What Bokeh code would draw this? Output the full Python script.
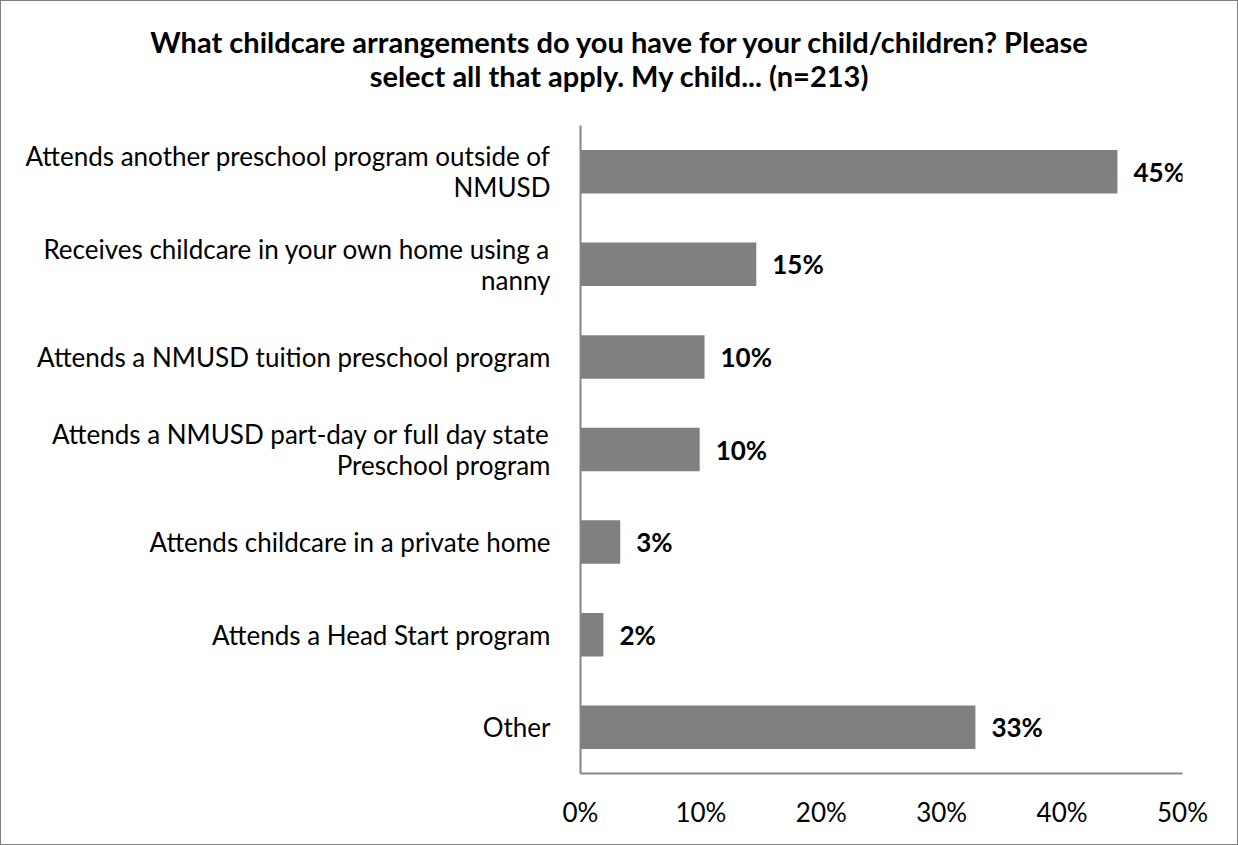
from bokeh.plotting import figure
from bokeh.models import ColumnDataSource, Range1d, FactorRange, FixedTicker, LabelSet, Div, CustomJSTickFormatter
from bokeh.layouts import column
from bokeh.core.properties import value
from bokeh.embed import file_html
from bokeh.resources import INLINE

categories = [
    "Attends another preschool program outside of\nNMUSD",
    "Receives childcare in your own home using a\nnanny",
    "Attends a NMUSD tuition preschool program",
    "Attends a NMUSD part-day or full day state\nPreschool program",
    "Attends childcare in a private home",
    "Attends a Head Start program",
    "Other",
]
values = [44.6, 14.6, 10.3, 9.9, 3.3, 1.9, 32.8]
x_ticks = [0, 10, 20, 30, 40, 50]
title_line1 = "What childcare arrangements do you have for your child/children? Please"
title_line2 = "select all that apply. My child... (n=213)"

labels = [f"{v:.0f}%" for v in values]
src = ColumnDataSource(dict(cat=categories, val=values, lab=labels))

W = 1236
DIV_H = 110
H = 843 - DIV_H

title = Div(text=f"{title_line1}<br>{title_line2}", width=W, height=DIV_H, margin=0,
            styles={"font-family": "Lato", "font-weight": "bold", "font-size": "29px",
                    "line-height": "34px", "text-align": "center", "color": "black",
                    "padding-top": "24px", "box-sizing": "border-box",
                    "background-color": "white"})

p = figure(width=W, height=H, output_backend="svg", toolbar_location=None, margin=0,
           y_range=FactorRange(factors=list(reversed(categories)), range_padding=0),
           x_range=Range1d(0, 50),
           min_border_left=579, min_border_right=55, min_border_top=14, min_border_bottom=71)
p.outline_line_color = None
p.grid.visible = False
p.background_fill_color = "white"
p.border_fill_color = "white"

p.hbar(y="cat", right="val", left=0, height=0.47, source=src, fill_color="#808080", line_color=None)

p.add_layout(LabelSet(x="val", y="cat", text="lab", source=src, x_offset=16, text_baseline="middle",
                      text_font=value("Lato"), text_font_style="bold", text_font_size="26px",
                      text_color="black"))

xa = p.xaxis[0]
xa.ticker = FixedTicker(ticks=x_ticks)
xa.formatter = CustomJSTickFormatter(code="return tick + '%'")
xa.axis_line_color = "#868686"
xa.axis_line_width = 2
xa.major_tick_line_color = None
xa.minor_tick_line_color = None
xa.major_label_text_font = "Lato"
xa.major_label_text_font_size = "26px"
xa.major_label_text_color = "black"
xa.major_label_standoff = 16

ya = p.yaxis[0]
ya.axis_line_color = "#868686"
ya.axis_line_width = 2
ya.major_tick_line_color = None
ya.minor_tick_line_color = None
ya.major_label_text_font = "Lato"
ya.major_label_text_font_size = "26px"
ya.major_label_text_line_height = 0.98
ya.major_label_text_color = "black"
ya.major_label_standoff = 24

layout = column(title, p, spacing=0, margin=0,
                styles={"border": "1px solid #808080", "background-color": "white"})

open("out.html", "w").write(file_html(layout, INLINE))
